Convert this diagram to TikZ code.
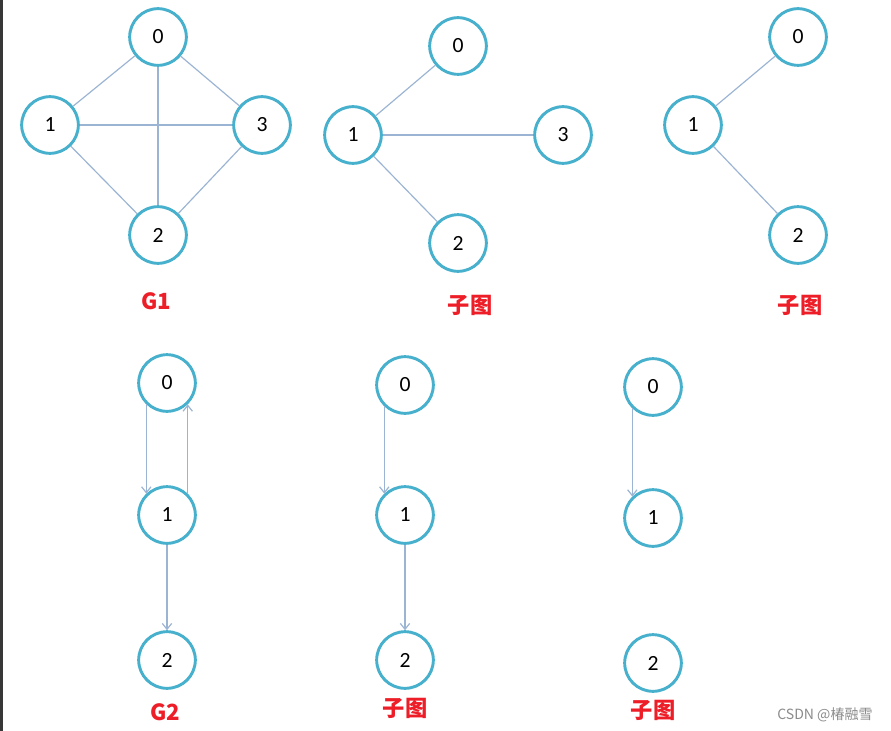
\documentclass[tikz,border=0pt]{standalone}
\usepackage{fontspec}
\setmainfont{Carlito}
\newfontfamily\cjk{Noto Sans CJK SC}
\usetikzlibrary{arrows.meta}
\definecolor{anello}{RGB}{70,176,205}
\definecolor{arco}{RGB}{155,180,212}
\definecolor{rosso}{RGB}{238,30,40}
\definecolor{bordo}{RGB}{55,55,55}

\begin{document}
\begin{tikzpicture}[
  x=0.03cm, y=-0.03cm,
  vertice/.style={circle, draw=anello, fill=white, line width=2.5pt,
                  minimum size=1.7cm, inner sep=0pt,
                  font=\fontsize{18.5}{19}\selectfont},
  titolo/.style={text=rosso, font=\cjk\bfseries\fontsize{19}{20}\selectfont},
  arco/.style={draw=arco, line width=1pt},
  freccia/.style={arco, -{Straight Barb[length=5pt,width=8pt]}}
]

%--------------------------------------------------------------
% Cornice
%--------------------------------------------------------------
\useasboundingbox[fill=white] (0,0) rectangle (891,731);
\fill[bordo] (0,0) rectangle (3,731);

%--------------------------------------------------------------
% G1 e i suoi sottografi
%--------------------------------------------------------------
\node[vertice] (a0) at (158,37) {0};
\node[vertice] (a1) at (50,125) {1};
\node[vertice] (a3) at (262,125) {3};
\node[vertice] (a2) at (158,235) {2};
\foreach \u/\v in {a0/a1, a0/a3, a0/a2, a1/a3, a1/a2, a3/a2}
  \draw[arco] (\u) -- (\v);
\node[titolo] (ta) at (156,301) {G1};

\node[vertice] (b0) at (458,46) {0};
\node[vertice] (b1) at (353,135) {1};
\node[vertice] (b3) at (563,135) {3};
\node[vertice] (b2) at (458,243) {2};
\foreach \u/\v in {b1/b0, b1/b3, b1/b2}
  \draw[arco] (\u) -- (\v);
\node[titolo] (tb) at (470,305) {子图};

\node[vertice] (c0) at (798,37) {0};
\node[vertice] (c1) at (693,125) {1};
\node[vertice] (c2) at (798,235) {2};
\foreach \u/\v in {c1/c0, c1/c2}
  \draw[arco] (\u) -- (\v);
\node[titolo] (tc) at (800,305) {子图};

%--------------------------------------------------------------
% G2 e i suoi sottografi
%--------------------------------------------------------------
\node[vertice] (d0) at (167,383) {0};
\node[vertice] (d1) at (167,515) {1};
\node[vertice] (d2) at (167,660) {2};
\draw[freccia] (d0.-134) -- (d1.134);
\draw[freccia] (d1.46) -- (d0.-46);
\draw[freccia] (d1) -- (d2);
\node[titolo] (td) at (165,712) {G2};

\node[vertice] (e0) at (405,385) {0};
\node[vertice] (e1) at (405,515) {1};
\node[vertice] (e2) at (405,660) {2};
\draw[freccia] (e0.-134) -- (e1.134);
\draw[freccia] (e1) -- (e2);
\node[titolo] (te) at (405,708) {子图};

\node[vertice] (f0) at (653,387) {0};
\node[vertice] (f1) at (653,518) {1};
\node[vertice] (f2) at (653,663) {2};
\draw[freccia] (f0.-134) -- (f1.134);
\node[titolo] (tf) at (653,710) {子图};

%--------------------------------------------------------------
% Filigrana
%--------------------------------------------------------------
\node[text=black!45, font=\cjk\fontsize{12}{13}\selectfont] (firma) at (825,715) {CSDN @椿融雪};

\end{tikzpicture}
\end{document}
